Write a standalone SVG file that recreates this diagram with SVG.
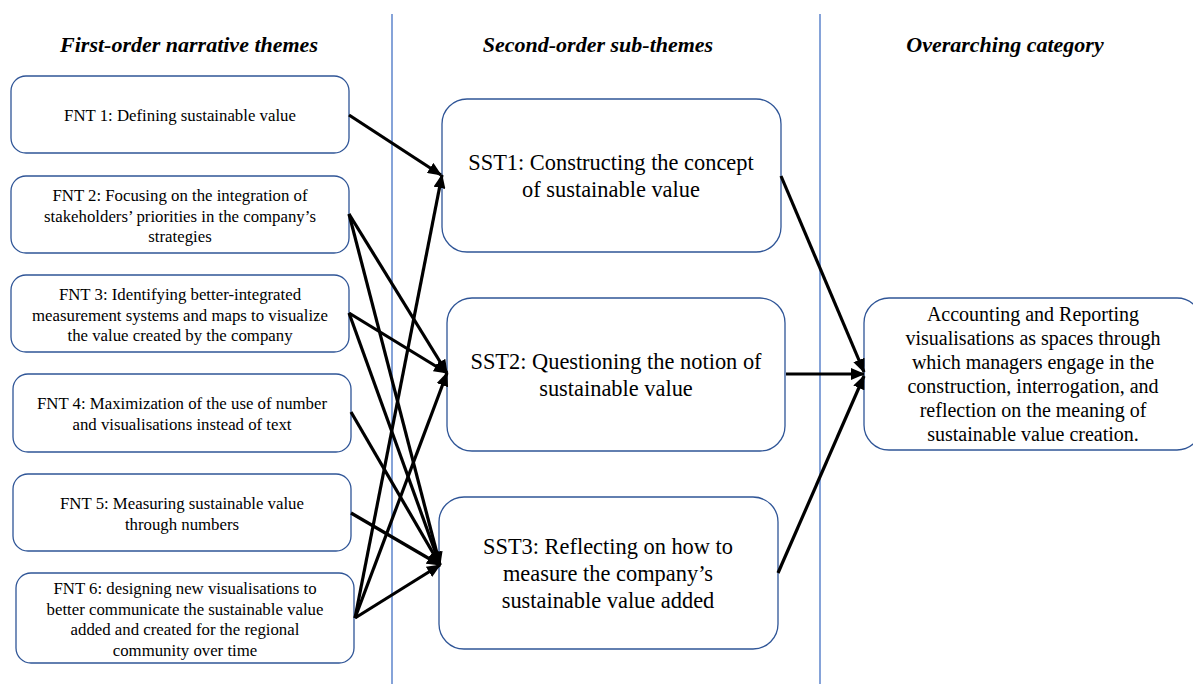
<svg xmlns="http://www.w3.org/2000/svg" width="1193" height="684" viewBox="0 0 1193 684">
  <style>
    .box { fill: #ffffff; stroke: #2f5597; stroke-width: 1.3; }
    .divider { stroke: #4472c4; stroke-width: 1.3; }
    text { font-family: 'Liberation Serif', 'DejaVu Serif', serif; fill: #000; text-anchor: middle; }
    .head { font-weight: bold; font-style: italic; font-size: 22px; }
    .fnt { font-size: 16.8px; }
    .sst { font-size: 22.4px; }
    .cat { font-size: 20px; }
    .arrow { stroke: #000; stroke-width: 3.2; fill: none; marker-end: url(#head); }
  </style>
  <defs>
    <marker id="head" markerUnits="userSpaceOnUse" markerWidth="14" markerHeight="12" refX="13" refY="6" orient="auto">
      <path d="M0,0 L14,6 L0,12 Z" fill="#000"/>
    </marker>
  </defs>
  <rect width="1193" height="684" fill="#ffffff"/>

  <!-- column dividers -->
  <g id="dividers">
    <line class="divider" x1="392" y1="14" x2="392" y2="684"/>
    <line class="divider" x1="820" y1="14" x2="820" y2="684"/>
  </g>

  <!-- column headings -->
  <g id="headings">
    <text class="head" x="189" y="52">First-order narrative themes</text>
    <text class="head" x="598" y="52">Second-order sub-themes</text>
    <text class="head" x="1005" y="52">Overarching category</text>
  </g>

  <!-- first-order narrative themes -->
  <g id="fnt1">
    <rect class="box" x="11" y="76" width="338" height="77" rx="15"/>
    <text class="fnt" x="180" y="121">FNT 1: Defining sustainable value</text>
  </g>
  <g id="fnt2">
    <rect class="box" x="11" y="176" width="338" height="77" rx="15"/>
    <text class="fnt" x="180" y="201">FNT 2: Focusing on the integration of</text>
    <text class="fnt" x="180" y="221.5">stakeholders’ priorities in the company’s</text>
    <text class="fnt" x="180" y="242">strategies</text>
  </g>
  <g id="fnt3">
    <rect class="box" x="11" y="275" width="338" height="77" rx="15"/>
    <text class="fnt" x="180" y="300">FNT 3: Identifying better-integrated</text>
    <text class="fnt" x="180" y="320.5">measurement systems and maps to visualize</text>
    <text class="fnt" x="180" y="341">the value created by the company</text>
  </g>
  <g id="fnt4">
    <rect class="box" x="13" y="374" width="338" height="78" rx="15"/>
    <text class="fnt" x="182" y="409">FNT 4: Maximization of the use of number</text>
    <text class="fnt" x="182" y="429.5">and visualisations instead of text</text>
  </g>
  <g id="fnt5">
    <rect class="box" x="13" y="474" width="338" height="77" rx="15"/>
    <text class="fnt" x="182" y="509">FNT 5: Measuring sustainable value</text>
    <text class="fnt" x="182" y="529.5">through numbers</text>
  </g>
  <g id="fnt6">
    <rect class="box" x="16" y="573" width="338" height="90" rx="15"/>
    <text class="fnt" x="185" y="594">FNT 6: designing new visualisations to</text>
    <text class="fnt" x="185" y="614.5">better communicate the sustainable value</text>
    <text class="fnt" x="185" y="635">added and created for the regional</text>
    <text class="fnt" x="185" y="656">community over time</text>
  </g>

  <!-- second-order sub-themes -->
  <g id="sst1">
    <rect class="box" x="442" y="99" width="339" height="153" rx="25"/>
    <text class="sst" x="611" y="170">SST1: Constructing the concept</text>
    <text class="sst" x="611" y="197">of sustainable value</text>
  </g>
  <g id="sst2">
    <rect class="box" x="447" y="298" width="338" height="153" rx="25"/>
    <text class="sst" x="616" y="369">SST2: Questioning the notion of</text>
    <text class="sst" x="616" y="396">sustainable value</text>
  </g>
  <g id="sst3">
    <rect class="box" x="439" y="497" width="339" height="152" rx="25"/>
    <text class="sst" x="608" y="554">SST3: Reflecting on how to</text>
    <text class="sst" x="608" y="581">measure the company’s</text>
    <text class="sst" x="608" y="608">sustainable value added</text>
  </g>

  <!-- overarching category -->
  <g id="category">
    <rect class="box" x="864" y="298" width="338" height="152" rx="25"/>
    <text class="cat" x="1033" y="321">Accounting and Reporting</text>
    <text class="cat" x="1033" y="345">visualisations as spaces through</text>
    <text class="cat" x="1033" y="369">which managers engage in the</text>
    <text class="cat" x="1033" y="393">construction, interrogation, and</text>
    <text class="cat" x="1033" y="417">reflection on the meaning of</text>
    <text class="cat" x="1033" y="441">sustainable value creation.</text>
  </g>

  <!-- connectors -->
  <g id="connectors">
    <line class="arrow" x1="349" y1="115" x2="441" y2="175"/>
    <line class="arrow" x1="349" y1="214" x2="447" y2="373"/>
    <line class="arrow" x1="349" y1="214" x2="440" y2="565"/>
    <line class="arrow" x1="349" y1="313" x2="447" y2="373"/>
    <line class="arrow" x1="349" y1="313" x2="440" y2="565"/>
    <line class="arrow" x1="351" y1="412" x2="440" y2="565"/>
    <line class="arrow" x1="351" y1="513" x2="440" y2="565"/>
    <line class="arrow" x1="355" y1="618" x2="442" y2="175"/>
    <line class="arrow" x1="355" y1="618" x2="447" y2="373"/>
    <line class="arrow" x1="355" y1="618" x2="440" y2="565"/>
    <line class="arrow" x1="781" y1="176" x2="864" y2="372"/>
    <line class="arrow" x1="786" y1="374" x2="864" y2="374"/>
    <line class="arrow" x1="778" y1="573" x2="864" y2="376"/>
  </g>
</svg>
